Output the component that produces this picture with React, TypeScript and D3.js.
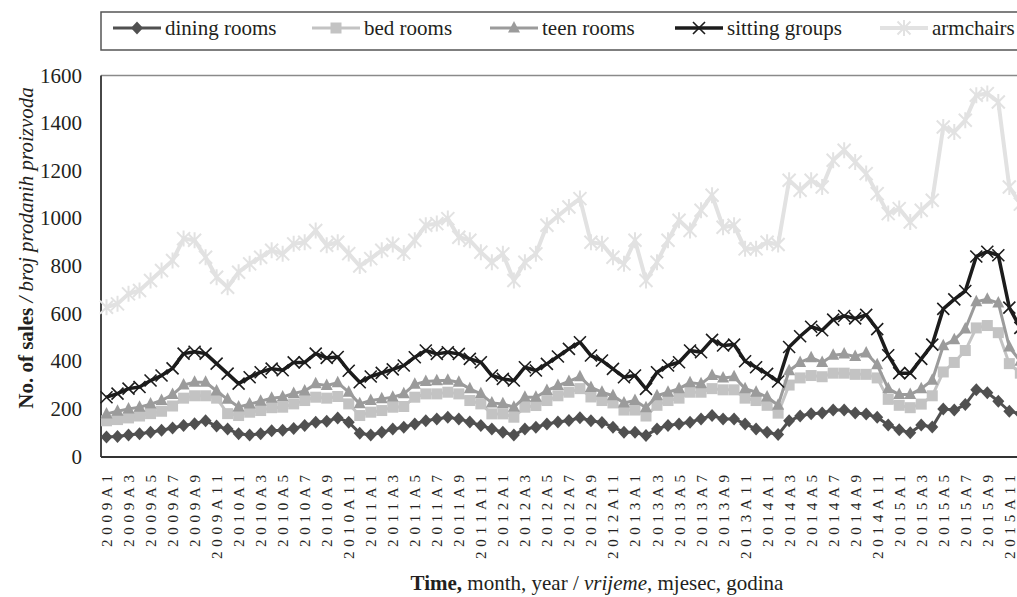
import React from 'react';
import * as d3 from 'd3';

const years = [2009, 2010, 2011, 2012, 2013, 2014, 2015];
const monthNums = [1, 2, 3, 4, 5, 6, 7, 8, 9, 10, 11, 12];
const categories = years.flatMap((y) => monthNums.map((m) => `${y}A${m}`));
const tickLabels = categories.filter((_, i) => i % 2 === 0);
const yTicks = [0, 200, 400, 600, 800, 1000, 1200, 1400, 1600];

const diningRooms = [
  82, 84, 90, 96, 102, 110, 120, 130, 138, 150, 128, 115,
  96, 90, 96, 108, 110, 118, 130, 144, 148, 162, 144, 98,
  90, 102, 115, 123, 137, 150, 158, 165, 158, 145, 130, 116,
  102, 90, 116, 123, 137, 145, 151, 163, 150, 143, 123, 102,
  102, 88, 116, 130, 137, 144, 158, 172, 158, 158, 137, 116,
  102, 92, 150, 170, 180, 183, 195, 195, 183, 178, 165, 132,
  112, 100, 132, 124, 200, 195, 218, 280, 268, 232, 190, 180,
];
const bedRooms = [
  150, 155, 162, 170, 180, 190, 212, 245, 255, 255, 245, 180,
  172, 186, 193, 205, 207, 221, 235, 249, 245, 252, 221, 172,
  186, 193, 207, 210, 249, 263, 263, 270, 263, 235, 221, 179,
  179, 165, 207, 214, 235, 255, 270, 285, 250, 235, 225, 195,
  195, 170, 215, 235, 245, 270, 270, 285, 280, 280, 245, 235,
  215, 182, 300, 330, 340, 335, 350, 350, 345, 345, 330, 240,
  215, 205, 220, 255, 355, 395, 445, 540, 550, 520, 390, 350,
];
const teenRooms = [
  179, 190, 200, 207, 220, 235, 260, 300, 312, 312, 275, 240,
  208, 220, 232, 245, 250, 265, 275, 305, 298, 310, 270, 221,
  235, 242, 249, 263, 303, 315, 318, 320, 312, 284, 263, 225,
  221, 207, 249, 249, 277, 298, 315, 335, 290, 270, 255, 225,
  235, 205, 255, 270, 285, 310, 305, 340, 330, 335, 285, 270,
  250, 215, 360, 395, 415, 395, 425, 430, 420, 435, 385, 285,
  260, 260, 285, 320, 465, 490, 535, 650, 660, 645, 460, 400,
];
const sittingGroups = [
  249, 264, 285, 292, 319, 340, 370, 432, 440, 432, 390, 348,
  306, 333, 354, 369, 362, 395, 395, 432, 414, 418, 360, 312,
  336, 351, 366, 382, 417, 445, 431, 438, 431, 410, 396, 340,
  326, 319, 375, 361, 389, 420, 452, 480, 424, 403, 368, 333,
  340, 284, 354, 382, 396, 445, 438, 490, 466, 470, 400, 375,
  347, 315, 460, 505, 545, 530, 575, 590, 580, 595, 535, 425,
  350, 350, 410, 470, 620, 660, 695, 840, 860, 845, 625, 540,
];
const armchairs = [
  627, 641, 683, 697, 739, 781, 823, 915, 908, 837, 753, 711,
  774, 809, 837, 866, 851, 893, 900, 949, 887, 900, 852, 800,
  831, 866, 890, 855, 908, 971, 978, 999, 921, 908, 858, 816,
  851, 739, 816, 851, 971, 1010, 1048, 1083, 900, 893, 837, 809,
  908, 739, 816, 908, 992, 949, 1034, 1097, 963, 971, 872, 872,
  900, 890, 1160, 1118, 1160, 1132, 1244, 1286, 1237, 1188, 1104, 1020,
  1041, 985, 1034, 1076, 1384, 1363, 1412, 1517, 1524, 1489, 1132, 1060,
];

type MarkerKind = 'diamond' | 'square' | 'triangle' | 'cross' | 'star';
const seriesNames = ['dining rooms', 'bed rooms', 'teen rooms', 'sitting groups', 'armchairs'];
const seriesValues = [diningRooms, bedRooms, teenRooms, sittingGroups, armchairs];
const seriesColors = ['#505050', '#c3c3c3', '#9b9b9b', '#1c1c1c', '#e2e2e2'];
const seriesMarkers: MarkerKind[] = ['diamond', 'square', 'triangle', 'cross', 'star'];
const seriesLineWidths = [3, 3, 3, 3.5, 4];

const W = 1017;
const H = 597;
const M = { left: 101, top: 75.5, bottom: 456.5 };
const bandStep = 11.01;
const FONT = '"Liberation Serif", "Times New Roman", serif';

function Marker({ kind, x, y, color }: { kind: MarkerKind; x: number; y: number; color: string }) {
  switch (kind) {
    case 'diamond':
      return <path d={`M${x},${y - 6.5}L${x + 6},${y}L${x},${y + 6.5}L${x - 6},${y}Z`} fill={color} />;
    case 'square':
      return <rect x={x - 5.5} y={y - 5.5} width={11} height={11} fill={color} />;
    case 'triangle':
      return <path d={`M${x},${y - 7}L${x + 6},${y + 4.5}L${x - 6},${y + 4.5}Z`} fill={color} />;
    case 'cross':
      return (
        <path
          d={`M${x - 6},${y - 6}L${x + 6},${y + 6}M${x - 6},${y + 6}L${x + 6},${y - 6}`}
          stroke={color}
          strokeWidth={1.6}
          fill="none"
        />
      );
    case 'star':
      return (
        <path
          d={`M${x - 6.5},${y - 6.5}L${x + 6.5},${y + 6.5}M${x - 6.5},${y + 6.5}L${x + 6.5},${y - 6.5}M${x},${y - 8}L${x},${y + 8}`}
          stroke={color}
          strokeWidth={2}
          fill="none"
        />
      );
  }
  return null;
}

export default function App() {
  const x = d3
    .scaleBand<string>()
    .domain(categories)
    .range([M.left, M.left + bandStep * categories.length])
    .paddingInner(0)
    .paddingOuter(0);
  const cx = (c: string) => (x(c) as number) + x.bandwidth() / 2;
  const y = d3.scaleLinear().domain([0, 1600]).range([M.bottom, M.top]);

  const line = d3
    .line<number>()
    .x((_, i) => cx(categories[i]))
    .y((d) => y(d));

  const legendX = [113, 312, 490, 675, 880];
  const legendLineLen = 48;

  return (
    <svg
      width={W}
      height={H}
      style={{ position: 'absolute', left: 0, top: 0, background: '#fff' }}
      fontFamily={FONT}
    >
      <rect x={0} y={0} width={W} height={H} fill="#fff" />

      {/* legend box */}
      <rect x={101} y={12} width={W} height={38} fill="#fff" stroke="#555" strokeWidth={1.5} />
      {seriesNames.map((name, k) => {
        const lx = legendX[k];
        const mx = lx + legendLineLen / 2;
        return (
          <g key={name}>
            <line
              x1={lx}
              x2={lx + legendLineLen}
              y1={28}
              y2={28}
              stroke={seriesColors[k]}
              strokeWidth={seriesLineWidths[k]}
            />
            <Marker kind={seriesMarkers[k]} x={mx} y={28} color={seriesColors[k]} />
            <text x={lx + legendLineLen + 4} y={35} fontSize={21} fill="#231f20">
              {name}
            </text>
          </g>
        );
      })}

      {/* plot frame */}
      <line x1={M.left} x2={W} y1={M.top} y2={M.top} stroke="#8a8a8a" strokeWidth={1.5} />
      <line x1={M.left} x2={M.left} y1={M.top} y2={M.bottom + 0.5} stroke="#333" strokeWidth={1.8} />
      <line x1={M.left} x2={W} y1={M.bottom + 0.5} y2={M.bottom + 0.5} stroke="#333" strokeWidth={1.8} />

      {/* y ticks */}
      {yTicks.map((t) => (
        <text key={t} x={82} y={y(t) + 7} fontSize={21} textAnchor="end" fill="#231f20">
          {t}
        </text>
      ))}

      {/* x ticks */}
      {tickLabels.map((lab) => {
        const px = cx(lab);
        return (
          <text
            key={lab}
            transform={`translate(${px + 5.5},475) rotate(-90)`}
            fontSize={15}
            textAnchor="end"
            textLength={lab.length * 12.15 - 1}
            lengthAdjust="spacing"
            fill="#231f20"
          >
            {lab}
          </text>
        );
      })}

      {/* series */}
      {seriesValues.map((vals, k) => (
        <g key={seriesNames[k]}>
          <path
            d={line(vals) || ''}
            fill="none"
            stroke={seriesColors[k]}
            strokeWidth={seriesLineWidths[k]}
            strokeLinejoin="round"
          />
          {vals.map((v, i) => (
            <Marker key={i} kind={seriesMarkers[k]} x={cx(categories[i])} y={y(v)} color={seriesColors[k]} />
          ))}
        </g>
      ))}

      {/* axis titles */}
      <text x={597} y={590} fontSize={21} textAnchor="middle" fill="#231f20">
        <tspan fontWeight="bold">Time,</tspan>
        <tspan> month, year / </tspan>
        <tspan fontStyle="italic">vrijeme,</tspan>
        <tspan> mjesec, godina</tspan>
      </text>
      <text
        transform="translate(33,248) rotate(-90)"
        fontSize={21}
        textAnchor="middle"
        fill="#231f20"
      >
        <tspan fontWeight="bold">No. of sales</tspan>
        <tspan fontStyle="italic"> / broj prodanih proizvoda</tspan>
      </text>
    </svg>
  );
}
